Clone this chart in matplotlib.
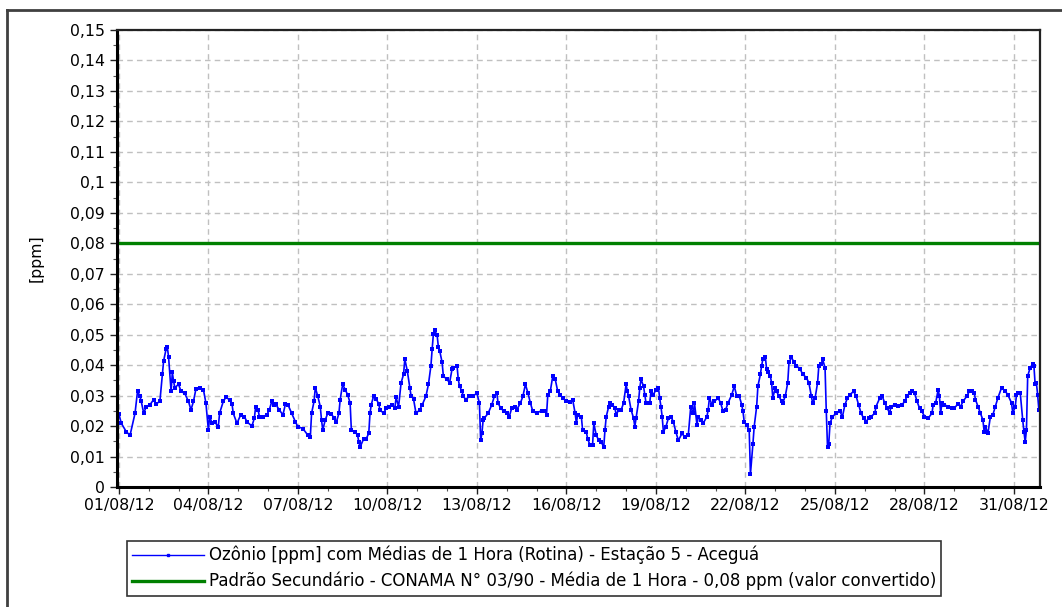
import pandas as pd
import matplotlib
matplotlib.use("Agg")
import matplotlib.pyplot as plt
import matplotlib.dates as mdates
from matplotlib.ticker import MultipleLocator, FuncFormatter
from matplotlib.lines import Line2D

plt.rcParams['font.family'] = ['DejaVu Sans']
plt.rcParams['font.size'] = 11.3

# hourly ozone readings (hours since 01/08/2012 00:00, ppm)
hours_a = [0, 2, 6, 9, 13, 15, 17, 18, 20, 22, 25, 28, 30, 33, 35, 36, 38, 39, 40, 42,
           43, 44, 45, 48, 50, 53, 56, 58, 60, 62, 65, 68, 70, 72, 73, 75, 77, 80, 81, 84,
           86, 89, 91, 92, 95, 98, 101, 103, 107, 109, 110, 112, 113, 116, 119, 121, 123, 125]
ozone_a = [0.0239, 0.0209, 0.0181, 0.0170, 0.0242, 0.0314, 0.0298, 0.0281, 0.0242, 0.0264,
           0.0270, 0.0287, 0.0273, 0.0281, 0.0370, 0.0414, 0.0453, 0.0459, 0.0426, 0.0314,
           0.0376, 0.0348, 0.0326, 0.0337, 0.0314, 0.0307, 0.0281, 0.0253, 0.0281, 0.0322,
           0.0326, 0.0320, 0.0276, 0.0187, 0.0231, 0.0209, 0.0214, 0.0198, 0.0242, 0.0281,
           0.0294, 0.0287, 0.0273, 0.0242, 0.0209, 0.0237, 0.0231, 0.0214, 0.0200, 0.0226,
           0.0264, 0.0253, 0.0231, 0.0231, 0.0237, 0.0253, 0.0281, 0.0270]

hours_b = [126, 129, 132, 134, 136, 139, 142, 144, 148, 152, 154, 155, 157, 158, 160, 162,
           163, 164, 166, 168, 171, 173, 175, 177, 178, 180, 182, 184, 186, 187, 190, 192,
           193, 194, 197, 199, 201, 202, 203, 205, 207, 209, 210, 213, 215, 217, 220, 222,
           223, 225, 227, 229, 230, 232, 234, 235, 237, 239, 242, 244, 247, 249, 251, 252, 253]
ozone_b = [0.0273, 0.0253, 0.0237, 0.0273, 0.0270, 0.0242, 0.0214, 0.0198, 0.0192, 0.0170,
           0.0164, 0.0242, 0.0281, 0.0326, 0.0298, 0.0264, 0.0220, 0.0187, 0.0220, 0.0242,
           0.0240, 0.0226, 0.0214, 0.0242, 0.0287, 0.0337, 0.0320, 0.0303, 0.0276, 0.0187,
           0.0181, 0.0170, 0.0148, 0.0131, 0.0159, 0.0159, 0.0176, 0.0242, 0.0270, 0.0300,
           0.0289, 0.0273, 0.0253, 0.0242, 0.0259, 0.0264, 0.0270, 0.0259, 0.0294, 0.0264,
           0.0342, 0.0370, 0.0420, 0.0381, 0.0326, 0.0300, 0.0289, 0.0242, 0.0253, 0.0270,
           0.0298, 0.0337, 0.0398, 0.0453, 0.0503]

hours_c = [254, 256, 257, 258, 260, 261, 264, 266, 268, 269, 272, 273, 274, 276, 277, 279,
           282, 285, 288, 290, 291, 292, 293, 294, 297, 300, 302, 304, 305, 307, 310, 312,
           314, 316, 319, 320, 323, 325, 327, 329, 331, 333, 336, 340, 343, 344, 345, 347,
           349, 351, 353, 355, 357, 360, 363, 365, 367, 368, 369, 372, 373, 376, 377, 379, 381, 382]
ozone_c = [0.0514, 0.0498, 0.0459, 0.0448, 0.0409, 0.0364, 0.0353, 0.0342, 0.0387, 0.0392,
           0.0398, 0.0353, 0.0331, 0.0314, 0.0298, 0.0287, 0.0298, 0.0300, 0.0307, 0.0276,
           0.0153, 0.0176, 0.0220, 0.0226, 0.0242, 0.0270, 0.0298, 0.0309, 0.0276, 0.0259,
           0.0248, 0.0242, 0.0231, 0.0259, 0.0264, 0.0253, 0.0276, 0.0298, 0.0337, 0.0309,
           0.0276, 0.0248, 0.0242, 0.0251, 0.0248, 0.0237, 0.0303, 0.0314, 0.0364, 0.0353,
           0.0314, 0.0303, 0.0292, 0.0281, 0.0278, 0.0287, 0.0242, 0.0209, 0.0237, 0.0231,
           0.0187, 0.0181, 0.0159, 0.0137, 0.0137, 0.0209]

hours_d = [384, 386, 388, 390, 391, 392, 394, 395, 397, 399, 400, 402, 404, 406, 408, 409,
           410, 412, 414, 415, 416, 418, 419, 420, 422, 423, 424, 427, 428, 430, 432, 434,
           435, 436, 437, 438, 440, 442, 444, 446, 448, 450, 453, 455, 458, 460, 462, 463,
           465, 466, 468, 470, 473, 474, 475, 477, 479, 482, 484, 486, 488, 490, 493, 495,
           497, 499, 501, 502, 503, 505, 507, 508, 510, 511]
ozone_d = [0.0170, 0.0153, 0.0148, 0.0131, 0.0187, 0.0231, 0.0264, 0.0276, 0.0270, 0.0259,
           0.0237, 0.0253, 0.0253, 0.0276, 0.0337, 0.0314, 0.0298, 0.0253, 0.0226, 0.0198,
           0.0226, 0.0281, 0.0326, 0.0353, 0.0331, 0.0303, 0.0276, 0.0276, 0.0314, 0.0303,
           0.0320, 0.0326, 0.0292, 0.0264, 0.0231, 0.0181, 0.0198, 0.0226, 0.0231, 0.0214,
           0.0181, 0.0153, 0.0176, 0.0164, 0.0170, 0.0264, 0.0242, 0.0276, 0.0203, 0.0231,
           0.0220, 0.0209, 0.0231, 0.0253, 0.0292, 0.0270, 0.0281, 0.0292, 0.0276, 0.0248,
           0.0253, 0.0276, 0.0303, 0.0331, 0.0298, 0.0298, 0.0270, 0.0248, 0.0214, 0.0203,
           0.0187, 0.0042, 0.0142, 0.0198]

hours_e = [513, 514, 516, 517, 518, 520, 521, 522, 524, 525, 526, 528, 529, 531, 533, 534,
           536, 538, 539, 541, 543, 545, 548, 550, 553, 555, 557, 558, 560, 562, 563, 565,
           566, 568, 569, 570, 571, 572, 574, 577, 580, 582, 584, 586, 588, 591, 593, 595,
           597, 599, 601, 603, 605, 608, 609, 612, 614, 616, 618, 620, 621, 624, 627, 630,
           632, 634, 636, 638, 640]
ozone_e = [0.0264, 0.0331, 0.0370, 0.0398, 0.0420, 0.0426, 0.0387, 0.0376, 0.0364, 0.0342,
           0.0292, 0.0326, 0.0314, 0.0298, 0.0281, 0.0276, 0.0298, 0.0342, 0.0409, 0.0426,
           0.0409, 0.0398, 0.0387, 0.0370, 0.0359, 0.0342, 0.0298, 0.0276, 0.0292, 0.0342,
           0.0398, 0.0403, 0.0420, 0.0392, 0.0248, 0.0131, 0.0142, 0.0209, 0.0231, 0.0242,
           0.0248, 0.0231, 0.0270, 0.0292, 0.0303, 0.0314, 0.0298, 0.0270, 0.0242, 0.0226,
           0.0214, 0.0226, 0.0231, 0.0242, 0.0264, 0.0292, 0.0298, 0.0276, 0.0259, 0.0242,
           0.0264, 0.0270, 0.0267, 0.0270, 0.0281, 0.0298, 0.0309, 0.0314, 0.0309]

hours_f = [642, 644, 646, 648, 651, 654, 655, 657, 659, 660, 661, 662, 664, 667, 670, 672,
           675, 677, 679, 682, 684, 686, 688, 689, 691, 693, 695, 696, 697, 699, 701, 703,
           705, 707, 710, 713, 715, 718, 719, 721, 722, 723, 725, 727, 728, 729, 730, 731,
           733, 735, 736, 737, 738, 739, 740]
ozone_f = [0.0281, 0.0259, 0.0248, 0.0231, 0.0226, 0.0242, 0.0270, 0.0276, 0.0320, 0.0298,
           0.0242, 0.0276, 0.0270, 0.0264, 0.0259, 0.0259, 0.0273, 0.0264, 0.0281, 0.0298,
           0.0314, 0.0314, 0.0309, 0.0287, 0.0264, 0.0242, 0.0220, 0.0181, 0.0198, 0.0176,
           0.0231, 0.0237, 0.0264, 0.0292, 0.0326, 0.0314, 0.0303, 0.0276, 0.0242, 0.0264,
           0.0303, 0.0309, 0.0309, 0.0220, 0.0181, 0.0148, 0.0187, 0.0364, 0.0392, 0.0403,
           0.0398, 0.0337, 0.0342, 0.0303, 0.0253]

standard = 0.08  # padrao secundario CONAMA 03/90
start = pd.Timestamp("2012-08-01 00:00")

hours = hours_a + hours_b + hours_c + hours_d + hours_e + hours_f
ozone = ozone_a + ozone_b + ozone_c + ozone_d + ozone_e + ozone_f
assert len(hours) == len(ozone)
times = start + pd.to_timedelta(hours, unit="h")

fig = plt.figure(figsize=(10.62, 6.07), dpi=100)
ax = fig.add_axes([117 / 1062, 1 - 487 / 607, (1039.5 - 117) / 1062, (487 - 30) / 607])

ax.plot(times, ozone, color="#0000ff", lw=1.2, marker="s", ms=2.6, mew=0)
x_lo = start - pd.Timedelta(hours=1.5)
x_hi = start + pd.Timedelta(hours=740.5)
ax.plot([x_lo, x_hi], [standard, standard], color="#008000", lw=2.4)

ax.set_xlim(x_lo, x_hi)
ax.set_ylim(0, 0.15)
ax.yaxis.set_major_locator(MultipleLocator(0.01))
ax.yaxis.set_minor_locator(MultipleLocator(0.005))
ax.yaxis.set_major_formatter(FuncFormatter(lambda v, p: f"{round(v, 2):g}".replace(".", ",")))
ax.xaxis.set_major_locator(mdates.DayLocator(bymonthday=range(1, 32, 3)))
ax.xaxis.set_minor_locator(mdates.DayLocator())
ax.xaxis.set_major_formatter(mdates.DateFormatter("%d/%m/%y"))

ax.grid(True, which="major", color="#c0c0c0", ls=(0, (4, 3)), lw=1)
ax.set_axisbelow(True)
ax.tick_params(which="major", direction="out", length=5, width=1, colors="#222222",
               labelcolor="black", labelsize=11.3)
ax.tick_params(which="minor", direction="out", length=3, width=0.8, colors="#555555")
ax.tick_params(axis="x", pad=3)
ax.set_ylabel("[ppm]", fontsize=11.3, labelpad=19)

for side in ["left", "bottom"]:
    ax.spines[side].set_linewidth(2.2)
    ax.spines[side].set_color("black")
for side in ["top", "right"]:
    ax.spines[side].set_linewidth(1.6)
    ax.spines[side].set_color("#222222")

# legend below the chart
handles = [
    Line2D([], [], color="#0000ff", lw=1, marker="s", ms=2, markevery=[1],
           label="Ozônio [ppm] com Médias de 1 Hora (Rotina) - Estação 5 - Aceguá"),
    Line2D([], [], color="#008000", lw=2.4,
           label="Padrão Secundário - CONAMA N° 03/90 - Média de 1 Hora - 0,08 ppm (valor convertido)"),
]
leg = fig.legend(handles=handles, loc="upper left", bbox_to_anchor=(127 / 1062, 1 - 541 / 607),
                 fontsize=12, frameon=True, fancybox=False, edgecolor="black",
                 handlelength=4.3, handletextpad=0.3, borderpad=0.3, labelspacing=0.45,
                 borderaxespad=0)
leg.get_frame().set_linewidth(1.2)

# outer frame of the image
fig.add_artist(Line2D([7 / 1062, 1], [1 - 10 / 607, 1 - 10 / 607], color="#404040", lw=2,
                      transform=fig.transFigure))
fig.add_artist(Line2D([7 / 1062, 7 / 1062], [0, 1 - 10 / 607], color="#404040", lw=2,
                      transform=fig.transFigure))

fig.savefig("out.png", dpi=100)
